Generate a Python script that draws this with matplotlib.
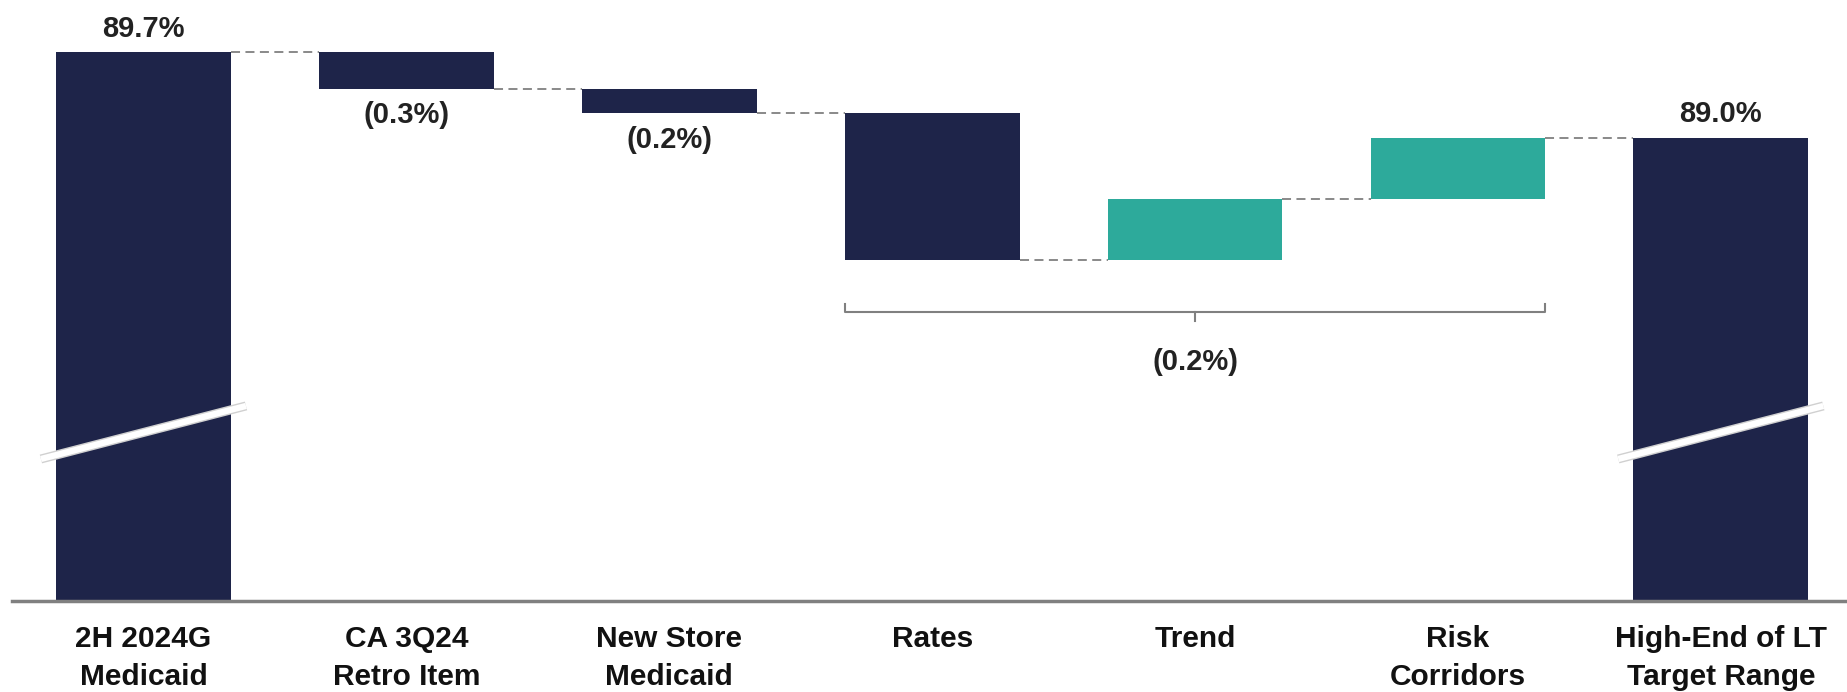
import numpy as np
import matplotlib.pyplot as plt

plt.rcParams['font.family'] = ['Liberation Sans', 'DejaVu Sans']

# data
categories = ['2H 2024G\nMedicaid', 'CA 3Q24\nRetro Item', 'New Store\nMedicaid',
              'Rates', 'Trend', 'Risk\nCorridors', 'High-End of LT\nTarget Range']
start_value = 89.7
changes = [-0.3, -0.2, -1.2, 0.5, 0.5]
end_value = 89.0
bar_labels = ['89.7%', '(0.3%)', '(0.2%)', '', '', '', '89.0%']
bracket_label = '(0.2%)'

navy = '#1E2449'
teal = '#2DAA9B'
grey = '#808080'

# running totals
levels = [start_value]
for c in changes:
    levels.append(levels[-1] + c)

ymin, ymax = 85.2, 90.13
w = 0.665
x = np.arange(len(categories))

fig = plt.figure(figsize=(18.47, 6.92), dpi=100)
ax = fig.add_axes([0.0065, 0.1315, 0.9935, 0.8685])

# totals
ax.bar(x[0], start_value - ymin, bottom=ymin, width=w, color=navy, zorder=2)
ax.bar(x[-1], end_value - ymin, bottom=ymin, width=w, color=navy, zorder=2)

# steps
for i, c in enumerate(changes):
    lo = min(levels[i], levels[i + 1])
    col = navy if c < 0 else teal
    ax.bar(x[i + 1], abs(c), bottom=lo, width=w, color=col, zorder=2)

# connectors
conn = levels + [end_value]
for i in range(len(categories) - 1):
    ax.plot([x[i] + w / 2, x[i + 1] - w / 2], [conn[i], conn[i]],
            color=grey, lw=1.3, ls=(0, (5, 3)), zorder=1)

# labels
ax.text(x[0], start_value + 0.08, bar_labels[0], ha='center', va='bottom',
        fontsize=21, fontweight='bold', color='#222222')
ax.text(x[-1], end_value + 0.08, bar_labels[-1], ha='center', va='bottom',
        fontsize=21, fontweight='bold', color='#222222')
for i in (1, 2):
    ax.text(x[i], levels[i] - 0.1, bar_labels[i], ha='center', va='top',
            fontsize=21, fontweight='bold', color='#222222')

# bracket over Rates..Risk Corridors
by = 87.57
bx0, bx1 = x[3] - w / 2, x[5] + w / 2
ax.plot([bx0, bx0, bx1, bx1], [by + 0.07, by, by, by + 0.07], color=grey, lw=1.5)
ax.plot([x[4], x[4]], [by, by - 0.07], color=grey, lw=1.5)
ax.text(x[4], 87.16, bracket_label, ha='center', va='center',
        fontsize=21, fontweight='bold', color='#222222')

# axis break marks
for xi in (x[0], x[-1]):
    ax.plot([xi - 0.39, xi + 0.39], [86.365, 86.80], color='#d0d0d0', lw=6.5,
            solid_capstyle='butt', zorder=3)
    ax.plot([xi - 0.39, xi + 0.39], [86.365, 86.80], color='white', lw=4.5,
            solid_capstyle='butt', zorder=3)

ax.set_xlim(-0.5, 6.48)
ax.set_ylim(ymin, ymax)
ax.set_xticks(x)
ax.set_xticklabels(categories, fontsize=21.5, fontweight='bold', color='#111111',
                   linespacing=1.45)
ax.tick_params(axis='x', length=0, pad=17)
ax.set_yticks([])
for s in ('top', 'right', 'left'):
    ax.spines[s].set_visible(False)
ax.spines['bottom'].set_color(grey)
ax.spines['bottom'].set_linewidth(2.5)

fig.savefig('out.png', dpi=100)
